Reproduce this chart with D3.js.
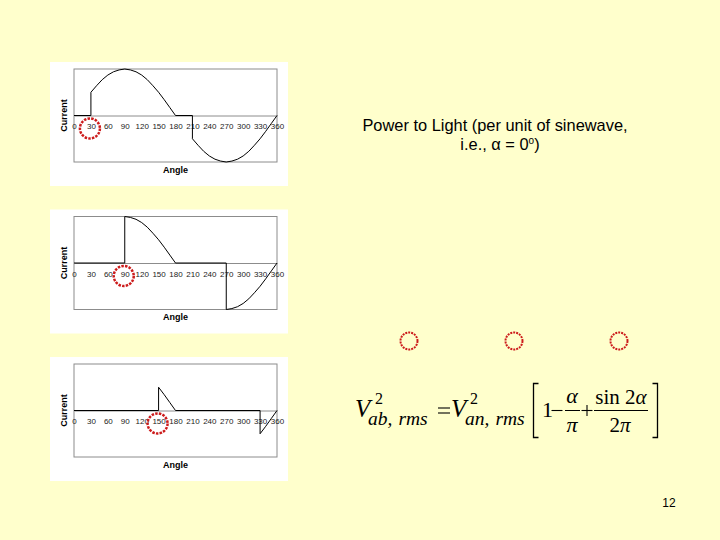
<!DOCTYPE html>
<html>
<head>
<meta charset="utf-8">
<script src="https://cdn.jsdelivr.net/npm/d3@7"></script>
<style>
  body { margin: 0; background: #ffffcc; }
</style>
</head>
<body>
<div id="chart"></div>
<script>
// tick labels on the angle axis
const angleTicks = [0, 30, 60, 90, 120, 150, 180, 210, 240, 270, 300, 330, 360]
// firing angle of each panel (the red circle marks it)
const firingAngles = [30, 90, 150]

// [angle, current]; repeated angle = vertical jump
const currentAlpha30 = [
  [0, 0], [30, 0], [30, 0.5], [40, 0.64], [50, 0.77], [60, 0.87], [70, 0.94],
  [80, 0.98], [90, 1], [100, 0.98], [110, 0.94], [120, 0.87], [130, 0.77],
  [140, 0.64], [150, 0.5], [160, 0.34], [170, 0.17], [180, 0], [210, 0],
  [210, -0.5], [220, -0.64], [230, -0.77], [240, -0.87], [250, -0.94],
  [260, -0.98], [270, -1], [280, -0.98], [290, -0.94], [300, -0.87],
  [310, -0.77], [320, -0.64], [330, -0.5], [340, -0.34], [350, -0.17], [360, 0]
]
const currentAlpha90 = [
  [0, 0], [90, 0], [90, 1], [100, 0.98], [110, 0.94], [120, 0.87], [130, 0.77],
  [140, 0.64], [150, 0.5], [160, 0.34], [170, 0.17], [180, 0], [270, 0],
  [270, -1], [280, -0.98], [290, -0.94], [300, -0.87], [310, -0.77],
  [320, -0.64], [330, -0.5], [340, -0.34], [350, -0.17], [360, 0]
]
const currentAlpha150 = [
  [0, 0], [150, 0], [150, 0.5], [160, 0.34], [170, 0.17], [180, 0], [330, 0],
  [330, -0.5], [340, -0.34], [350, -0.17], [360, 0]
]
const waves = [currentAlpha30, currentAlpha90, currentAlpha150]

const width = 720
const height = 540
const sans = 'Liberation Sans, Arial, sans-serif'
const serif = 'Liberation Serif, Times New Roman, serif'
const red = '#cc1b1b'

const svg = d3
  .select('#chart')
  .append('svg')
  .attr('width', width)
  .attr('height', height)

svg.append('rect').attr('width', width).attr('height', height).attr('fill', '#ffffcc')

// panel layout
const panelLeft = 50
const panelWidth = 238
const panelHeight = 124
const panelTops = [62, 209.5, 357]
const plot = { left: 74, right: 277, top: 7, bottom: 100 }

const x = d3.scaleLinear().domain([0, 360]).range([plot.left, plot.right])
const y = d3.scaleLinear().domain([-1, 1]).range([plot.bottom, plot.top])

const line = d3
  .line()
  .x((d) => x(d[0]))
  .y((d) => y(d[1]))

waves.forEach((wave, i) => {
  const g = svg.append('g').attr('transform', `translate(0, ${panelTops[i]})`)

  g.append('rect')
    .attr('x', panelLeft)
    .attr('y', 0)
    .attr('width', panelWidth)
    .attr('height', panelHeight)
    .attr('fill', '#ffffff')

  // plot frame
  g.append('rect')
    .attr('x', plot.left)
    .attr('y', plot.top)
    .attr('width', plot.right - plot.left)
    .attr('height', plot.bottom - plot.top)
    .attr('fill', 'none')
    .attr('stroke', '#8c8c8c')
    .attr('stroke-width', 1)

  // angle axis through zero
  g.append('g')
    .attr('transform', `translate(0, ${y(0)})`)
    .call(
      d3.axisBottom(x).tickValues(angleTicks).tickSize(0).tickPadding(8).tickFormat(d3.format('d'))
    )
    .call((a) => a.select('.domain').attr('stroke', '#8c8c8c'))
    .call((a) =>
      a.selectAll('.tick>text')
        .style('font-family', sans)
        .style('font-size', '8px')
        .attr('fill', '#222')
    )

  g.append('path')
    .datum(wave)
    .attr('fill', 'none')
    .attr('stroke', '#000')
    .attr('stroke-width', 1)
    .attr('d', line)

  g.append('text')
    .attr('x', (plot.left + plot.right) / 2)
    .attr('y', 110.5)
    .attr('text-anchor', 'middle')
    .style('font-family', sans)
    .style('font-size', '9px')
    .style('font-weight', 'bold')
    .text('Angle')

  g.append('text')
    .attr('transform', `translate(67.3, ${(plot.top + plot.bottom) / 2}) rotate(-90)`)
    .attr('text-anchor', 'middle')
    .style('font-family', sans)
    .style('font-size', '9px')
    .style('font-weight', 'bold')
    .text('Current')

  g.append('circle')
    .attr('cx', x(firingAngles[i]) - 1)
    .attr('cy', 66.5)
    .attr('r', 10)
    .attr('fill', 'none')
    .attr('stroke', red)
    .attr('stroke-width', 2.5)
    .attr('stroke-dasharray', '2.5,1.2')
})

// title on the right
const title = svg
  .append('text')
  .attr('text-anchor', 'middle')
  .style('font-family', sans)
  .style('font-size', '16.4px')
title.append('tspan').attr('x', 495).attr('y', 131).text('Power to Light (per unit of sinewave,')
const line2 = title.append('tspan').attr('x', 500).attr('y', 150).text('i.e., α = 0')
line2.append('tspan').attr('dy', -6).style('font-size', '10px').text('o')
line2.append('tspan').attr('dy', 6).text(')')

// the three marker circles
;[409, 514, 619].forEach((cx) => {
  svg.append('circle')
    .attr('cx', cx)
    .attr('cy', 341)
    .attr('r', 8.5)
    .attr('fill', 'none')
    .attr('stroke', red)
    .attr('stroke-width', 2)
    .attr('stroke-dasharray', '2,1')
})

// formula, all on one baseline
const base = 417
const f = svg.append('g').style('font-family', serif).attr('fill', '#000')
const txt = (tx, ty, s, size, opts = {}) => {
  return f.append('text')
    .attr('x', tx)
    .attr('y', ty)
    .style('font-size', size + 'px')
    .style('font-style', opts.italic ? 'italic' : 'normal')
    .attr('text-anchor', opts.anchor || 'start')
    .text(s)
}
const sub = (tx, a, b) => {
  const t = txt(tx, base + 8, a, 19.5, { italic: true })
  t.append('tspan').attr('dx', 6).text(b)
}
const rule = (x1, x2, y1, y2, w = 1) =>
  f.append('line').attr('x1', x1).attr('x2', x2).attr('y1', y1).attr('y2', y2)
    .attr('stroke', '#000').attr('stroke-width', w)

// left side
txt(355, base, 'V', 25, { italic: true })
txt(375, base - 13, '2', 16)
sub(368, 'ab,', 'rms')
rule(438, 450, base - 9, base - 9, 1.1)
rule(438, 450, base - 4, base - 4, 1.1)
txt(451, base, 'V', 25, { italic: true })
txt(470, base - 13, '2', 16)
sub(465, 'an,', 'rms')

// bracket contents
txt(542, base, '1', 22)
rule(551.5, 562.5, base - 6.5, base - 6.5, 1.1)
txt(572, 403, 'α', 22, { italic: true, anchor: 'middle' })
txt(572, 432, 'π', 22, { italic: true, anchor: 'middle' })
rule(581.5, 592.5, base - 6.5, base - 6.5, 1.1)
rule(587, 587, base - 12, base - 1, 1.1)
const num = txt(621, 404, 'sin 2', 21, { anchor: 'middle' })
num.append('tspan').style('font-style', 'italic').text('α')
const den = txt(620, 432, '2', 21, { anchor: 'middle' })
den.append('tspan').style('font-style', 'italic').text('π')

rule(565, 580, 410.5, 410.5)
rule(594, 648, 410.5, 410.5)

f.append('path')
  .attr('d', 'M538.5,383.5H533.5V437.5H538.5')
  .attr('fill', 'none').attr('stroke', '#000').attr('stroke-width', 1.3)
f.append('path')
  .attr('d', 'M652.5,383.5H657.5V437.5H652.5')
  .attr('fill', 'none').attr('stroke', '#000').attr('stroke-width', 1.3)

// page number
svg.append('text')
  .attr('x', 669)
  .attr('y', 507)
  .attr('text-anchor', 'middle')
  .style('font-family', sans)
  .style('font-size', '12px')
  .text('12')
</script>
</body>
</html>
